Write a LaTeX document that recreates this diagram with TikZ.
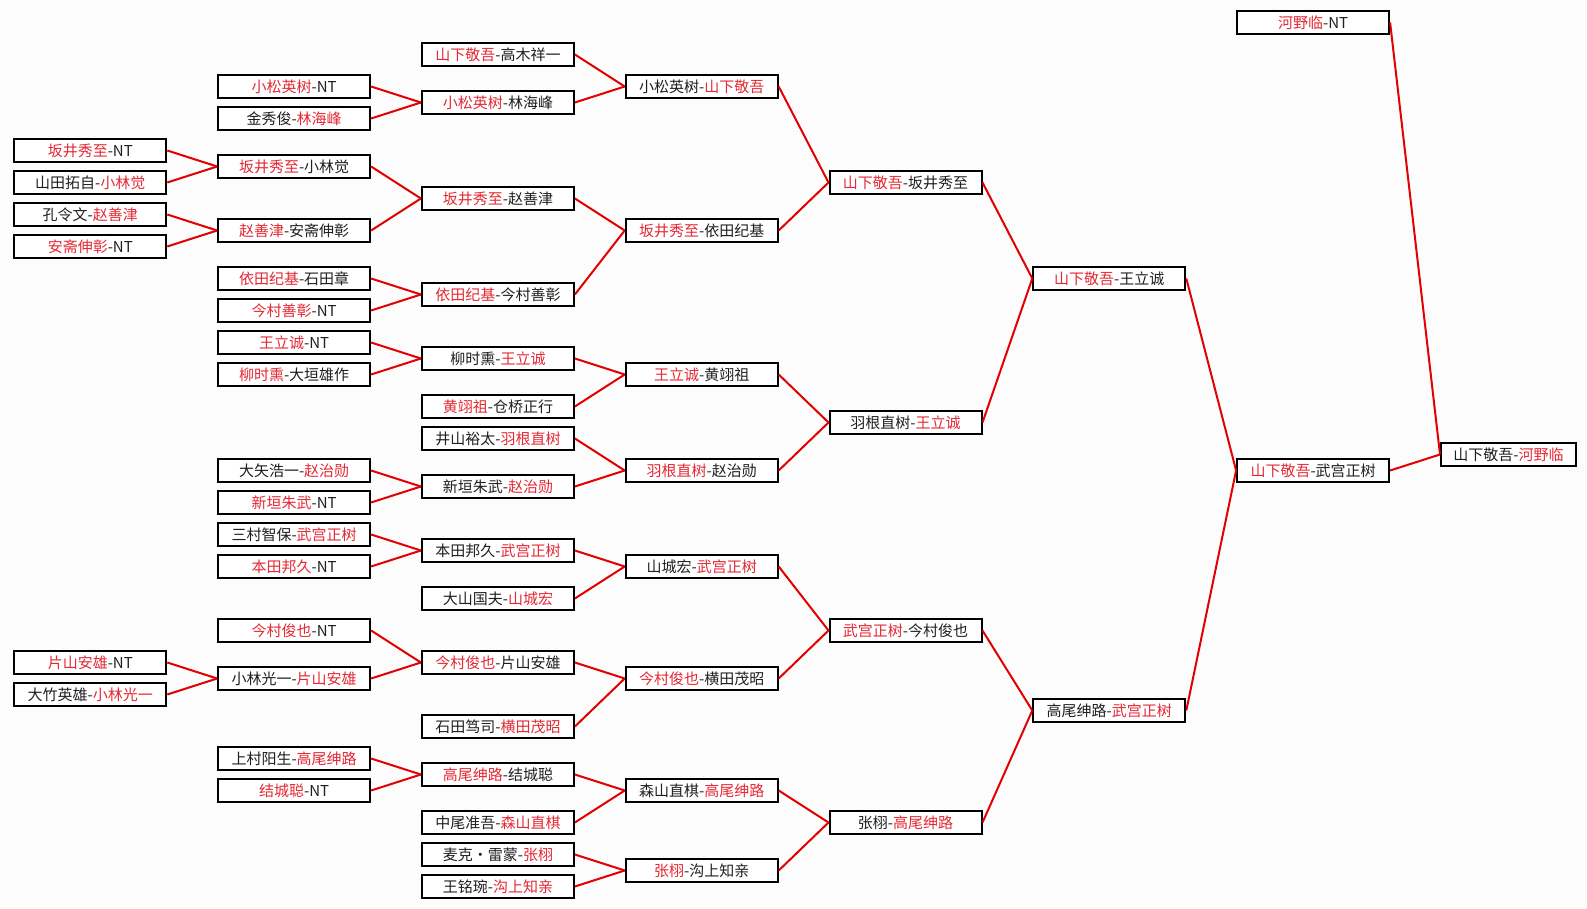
\documentclass[tikz,border=0pt]{standalone}
\usepackage{fontspec}
\newfontfamily\cjk{Noto Sans CJK SC}
\definecolor{wred}{RGB}{228,40,52}
\definecolor{lred}{RGB}{226,0,0}
\definecolor{bgc}{RGB}{252,252,252}
\newcommand{\win}[1]{\textcolor{wred}{#1}}
\newcommand{\B}[4]{\node[box] (#1) at ({#2}, {-(22.5+32*(#3))}) {#4};}
\tikzset{
  box/.style={draw=black, line width=2pt, fill=white, minimum width=152pt, minimum height=23pt,
    inner sep=0pt, font=\cjk\fontsize{15pt}{16pt}\selectfont, text=black!88},
  wide/.style={minimum width=135pt},
  link/.style={draw=lred, line width=2pt}
}
\begin{document}
\begin{tikzpicture}[x=1pt,y=1pt]
\fill[bgc] (0,0) rectangle (1587,-909);
\useasboundingbox (0,0) rectangle (1587,-909);
% column 1
\B{a1}{90.3}{4}{\win{坂井秀至}-NT}
\B{a2}{90.3}{5}{山田拓自-\win{小林觉}}
\B{a3}{90.3}{6}{孔令文-\win{赵善津}}
\B{a4}{90.3}{7}{\win{安斋伸彰}-NT}
\B{a5}{90.3}{20}{\win{片山安雄}-NT}
\B{a6}{90.3}{21}{大竹英雄-\win{小林光一}}
% column 2
\B{b1}{294.1}{2}{\win{小松英树}-NT}
\B{b2}{294.1}{3}{金秀俊-\win{林海峰}}
\B{b3}{294.1}{4.5}{\win{坂井秀至}-小林觉}
\B{b4}{294.1}{6.5}{\win{赵善津}-安斋伸彰}
\B{b5}{294.1}{8}{\win{依田纪基}-石田章}
\B{b6}{294.1}{9}{\win{今村善彰}-NT}
\B{b7}{294.1}{10}{\win{王立诚}-NT}
\B{b8}{294.1}{11}{\win{柳时熏}-大垣雄作}
\B{b9}{294.1}{14}{大矢浩一-\win{赵治勋}}
\B{b10}{294.1}{15}{\win{新垣朱武}-NT}
\B{b11}{294.1}{16}{三村智保-\win{武宫正树}}
\B{b12}{294.1}{17}{\win{本田邦久}-NT}
\B{b13}{294.1}{19}{\win{今村俊也}-NT}
\B{b14}{294.1}{20.5}{小林光一-\win{片山安雄}}
\B{b15}{294.1}{23}{上村阳生-\win{高尾绅路}}
\B{b16}{294.1}{24}{\win{结城聪}-NT}
% column 3
\B{c1}{497.9}{1}{\win{山下敬吾}-高木祥一}
\B{c2}{497.9}{2.5}{\win{小松英树}-林海峰}
\B{c3}{497.9}{5.5}{\win{坂井秀至}-赵善津}
\B{c4}{497.9}{8.5}{\win{依田纪基}-今村善彰}
\B{c5}{497.9}{10.5}{柳时熏-\win{王立诚}}
\B{c6}{497.9}{12}{\win{黄翊祖}-仓桥正行}
\B{c7}{497.9}{13}{井山裕太-\win{羽根直树}}
\B{c8}{497.9}{14.5}{新垣朱武-\win{赵治勋}}
\B{c9}{497.9}{16.5}{本田邦久-\win{武宫正树}}
\B{c10}{497.9}{18}{大山国夫-\win{山城宏}}
\B{c11}{497.9}{20}{\win{今村俊也}-片山安雄}
\B{c12}{497.9}{22}{石田笃司-\win{横田茂昭}}
\B{c13}{497.9}{23.5}{\win{高尾绅路}-结城聪}
\B{c14}{497.9}{25}{中尾准吾-\win{森山直棋}}
\B{c15}{497.9}{26}{麦克・雷蒙-\win{张栩}}
\B{c16}{497.9}{27}{王铭琬-\win{沟上知亲}}
% column 4
\B{d1}{701.7}{2}{小松英树-\win{山下敬吾}}
\B{d2}{701.7}{6.5}{\win{坂井秀至}-依田纪基}
\B{d3}{701.7}{11}{\win{王立诚}-黄翊祖}
\B{d4}{701.7}{14}{\win{羽根直树}-赵治勋}
\B{d5}{701.7}{17}{山城宏-\win{武宫正树}}
\B{d6}{701.7}{20.5}{\win{今村俊也}-横田茂昭}
\B{d7}{701.7}{24}{森山直棋-\win{高尾绅路}}
\B{d8}{701.7}{26.5}{\win{张栩}-沟上知亲}
% column 5
\B{e1}{905.5}{5}{\win{山下敬吾}-坂井秀至}
\B{e2}{905.5}{12.5}{羽根直树-\win{王立诚}}
\B{e3}{905.5}{19}{\win{武宫正树}-今村俊也}
\B{e4}{905.5}{25}{张栩-\win{高尾绅路}}
% column 6
\B{f1}{1109.3}{8}{\win{山下敬吾}-王立诚}
\B{f2}{1109.3}{21.5}{高尾绅路-\win{武宫正树}}
% column 7
\B{g0}{1313.1}{0}{\win{河野临}-NT}
\B{g1}{1313.1}{14}{\win{山下敬吾}-武宫正树}
% column 8
\node[box,wide] (h1) at (1508.5, {-(22.5+32*13.5)}) {山下敬吾-\win{河野临}};
% connectors
\foreach \s/\t in {a1/b3,a2/b3,a3/b4,a4/b4,a5/b14,a6/b14,
  b1/c2,b2/c2,b3/c3,b4/c3,b5/c4,b6/c4,b7/c5,b8/c5,b9/c8,b10/c8,b11/c9,b12/c9,b13/c11,b14/c11,b15/c13,b16/c13,
  c1/d1,c2/d1,c3/d2,c4/d2,c5/d3,c6/d3,c7/d4,c8/d4,c9/d5,c10/d5,c11/d6,c12/d6,c13/d7,c14/d7,c15/d8,c16/d8,
  d1/e1,d2/e1,d3/e2,d4/e2,d5/e3,d6/e3,d7/e4,d8/e4,
  e1/f1,e2/f1,e3/f2,e4/f2,
  f1/g1,f2/g1,
  g0/h1,g1/h1}
  \draw[link] (\s.east) -- (\t.west);
\end{tikzpicture}
\end{document}
